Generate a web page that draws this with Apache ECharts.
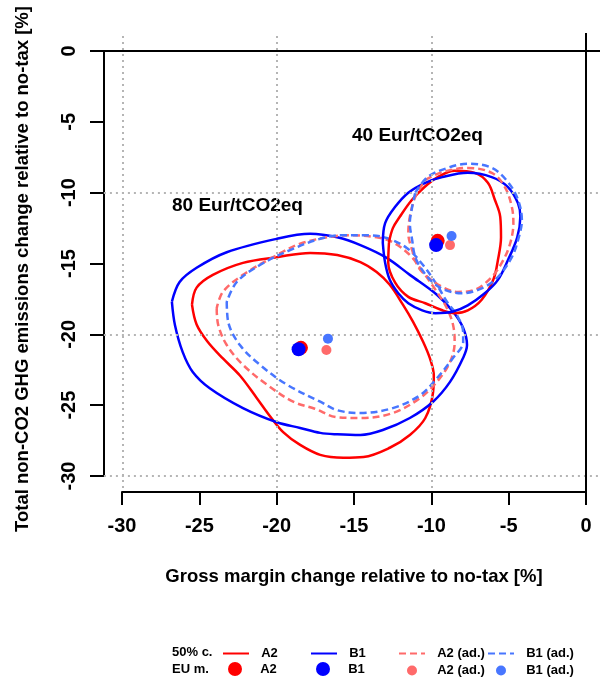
<!DOCTYPE html>
<html>
<head>
<meta charset="utf-8">
<script src="https://cdn.jsdelivr.net/npm/echarts@6/dist/echarts.min.js"></script>
<style>
  html, body { margin: 0; padding: 0; background: #fff; }
  #chart { width: 600px; height: 680px; }
</style>
</head>
<body>
<div id="chart"></div>
<script>
// tick values of both axes
var xTicks = [-30, -25, -20, -15, -10, -5, 0]
var yTicks = [-30, -25, -20, -15, -10, -5, 0]

// 50% contours, 80 Eur/tCO2eq  [gross margin %, non-CO2 GHG %]
var a2_80 = [[-25.5, -17.9], [-25.2, -19.3], [-24.5, -20.5], [-23.5, -21.7], [-22.4, -22.9], [-21.3, -24.5], [-20.5, -25.7], [-19.6, -26.9], [-18.5, -27.8], [-17.2, -28.5], [-15.7, -28.7], [-14.4, -28.65], [-12.7, -28.0], [-11.4, -27.1], [-10.4, -25.9], [-9.9, -24.1], [-9.85, -22.9], [-10.1, -21.7], [-10.55, -20.5], [-11.2, -19.1], [-11.85, -17.9], [-12.7, -16.5], [-13.55, -15.6], [-14.6, -14.9], [-16.1, -14.4], [-17.85, -14.25], [-20.0, -14.55], [-22.2, -14.95], [-24.15, -15.8], [-25.2, -16.7]]
var b1_80 = [[-26.8, -17.7], [-26.6, -19.35], [-26.1, -21.25], [-25.45, -22.65], [-24.35, -23.8], [-22.2, -25.2], [-20.0, -26.2], [-18.5, -26.6], [-17.2, -26.95], [-16.1, -27.05], [-14.6, -27.1], [-13.15, -26.75], [-11.4, -25.9], [-9.9, -24.75], [-8.8, -23.35], [-7.95, -21.65], [-7.7, -20.75], [-7.95, -19.55], [-8.6, -18.4], [-9.65, -17.2], [-11.4, -15.8], [-12.9, -14.6], [-14.6, -13.7], [-16.1, -13.15], [-17.85, -12.9], [-20.0, -13.25], [-23.25, -14.2], [-25.2, -15.3], [-26.3, -16.3]]
var a2ad_80 = [[-23.9, -18.15], [-23.8, -19.35], [-23.25, -20.75], [-22.2, -22.15], [-20.65, -23.55], [-18.95, -24.75], [-17.55, -25.25], [-16.1, -25.85], [-14.6, -25.9], [-12.5, -25.55], [-10.75, -24.5], [-9.65, -23.35], [-8.8, -21.95], [-8.5, -20.55], [-8.6, -19.35], [-9.0, -18.15], [-9.65, -17.0], [-10.55, -15.6], [-11.4, -14.4], [-12.5, -13.5], [-13.55, -13.15], [-15.3, -13.0], [-16.75, -13.15], [-18.5, -13.6], [-20.0, -14.4], [-22.2, -15.8], [-23.5, -17.0]]
var b1ad_80 = [[-23.25, -17.7], [-23.15, -19.15], [-22.4, -20.75], [-21.1, -22.15], [-19.35, -23.55], [-17.2, -24.75], [-16.1, -25.35], [-14.6, -25.55], [-12.5, -25.2], [-10.75, -24.3], [-9.65, -23.1], [-8.6, -21.65], [-7.95, -20.55], [-7.95, -19.85], [-8.35, -18.65], [-9.0, -17.7], [-9.65, -16.5], [-10.55, -15.1], [-11.6, -13.9], [-12.9, -13.2], [-14.15, -13.0], [-15.75, -13.0], [-17.2, -13.25], [-19.15, -14.05], [-21.1, -15.1], [-22.6, -16.3]]

// 50% contours, 40 Eur/tCO2eq
var a2_40 = [[-12.75, -13.5], [-12.5, -12.5], [-12.05, -11.7], [-11.3, -10.55], [-10.45, -9.6], [-9.6, -8.9], [-8.5, -8.45], [-7.2, -8.6], [-6.35, -9.3], [-5.9, -10.5], [-5.55, -11.7], [-5.5, -13.15], [-5.7, -14.75], [-6.0, -16.15], [-6.75, -17.55], [-7.65, -18.3], [-8.5, -18.5], [-9.3, -18.3], [-10.4, -17.8], [-11.5, -17.35], [-12.35, -16.35], [-12.8, -14.9]]
var b1_40 = [[-13.15, -13.55], [-13.0, -12.15], [-12.35, -11.0], [-11.5, -10.0], [-10.4, -9.3], [-9.3, -8.9], [-7.65, -8.6], [-6.1, -8.9], [-5.05, -9.6], [-4.4, -10.75], [-4.25, -11.7], [-4.45, -13.15], [-5.05, -14.75], [-5.7, -16.15], [-6.55, -17.1], [-7.65, -17.95], [-8.65, -18.4], [-9.75, -18.5], [-10.6, -18.3], [-11.5, -17.8], [-12.15, -17.1], [-12.7, -16.15], [-13.0, -14.95]]
var a2ad_40 = [[-10.4, -9.1], [-9.3, -8.55], [-7.65, -8.25], [-6.1, -8.6], [-5.25, -9.6], [-4.8, -11.0], [-4.7, -12.15], [-4.9, -13.55], [-5.35, -14.75], [-6.1, -15.95], [-7.2, -16.85], [-8.3, -17.0], [-9.3, -16.65], [-10.25, -15.95], [-10.85, -15.25], [-11.25, -14.05], [-11.5, -12.85], [-11.4, -11.7], [-11.05, -10.3]]
var b1ad_40 = [[-11.05, -10.0], [-10.25, -8.9], [-8.95, -8.25], [-7.65, -7.95], [-6.1, -8.25], [-5.05, -9.25], [-4.4, -10.5], [-4.15, -11.95], [-4.4, -13.35], [-4.8, -14.55], [-5.7, -15.95], [-6.75, -16.75], [-8.05, -17.1], [-9.15, -16.85], [-9.95, -16.3], [-10.6, -15.45], [-11.05, -14.55], [-11.25, -13.35], [-11.4, -12.15], [-11.25, -11.0]]

// EU means, [80 Eur point, 40 Eur point]
var euA2 = [[-18.45, -20.95], [-9.6, -13.4]]
var euB1 = [[-18.6, -21.05], [-9.7, -13.7]]
var euA2ad = [[-16.8, -21.1], [-8.8, -13.7]]
var euB1ad = [[-16.7, -20.3], [-8.7, -13.05]]

var FONT = '"Liberation Sans", Arial, sans-serif'
var RED = '#ff0000'
var BLUE = '#0000ff'
var PINK = '#ff6a6a'
var LBLUE = '#4876ff'
var GRIDC = '#b5b5b5'

var chart = echarts.init(document.getElementById('chart'))

function contour(name, data, color, dashed) {
  return {
    name: name,
    type: 'line',
    data: data.concat([data[0]]),
    smooth: 0.35,
    symbol: 'none',
    silent: true,
    z: 3,
    lineStyle: { color: color, width: 2.5, type: dashed ? [7, 4] : 'solid' },
    itemStyle: { color: color }
  }
}

function dots(name, data, color, size) {
  return {
    name: name,
    type: 'scatter',
    data: data,
    symbolSize: size,
    silent: true,
    z: 5,
    itemStyle: { color: color, opacity: 1 }
  }
}

var dotted = { color: GRIDC, width: 2, type: [2, 4] }
var guides = {
  type: 'line',
  data: [],
  silent: true,
  z: 1,
  markLine: {
    silent: true,
    symbol: 'none',
    label: { show: false },
    data: [
      [{ coord: [-30, 1.06], lineStyle: dotted }, { coord: [-30, -30.84] }],
      [{ coord: [-20, 1.06], lineStyle: dotted }, { coord: [-20, -30.84] }],
      [{ coord: [-10, 1.06], lineStyle: dotted }, { coord: [-10, -30.84] }],
      [{ coord: [-31.2, -10], lineStyle: dotted }, { coord: [0.9, -10] }],
      [{ coord: [-31.2, -20], lineStyle: dotted }, { coord: [0.9, -20] }],
      [{ coord: [-31.2, -30], lineStyle: dotted }, { coord: [0.9, -30] }],
      { xAxis: 0, lineStyle: { color: '#000', width: 2, type: 'solid' } },
      { yAxis: 0, lineStyle: { color: '#000', width: 2, type: 'solid' } }
    ]
  }
}

var legendText = { fontSize: 13, fontWeight: 'bold', color: '#000', fontFamily: FONT }
function legendItem(name, left, top, h, isLine) {
  var lg = {
    show: true,
    left: left,
    top: top,
    padding: 0,
    itemWidth: 26,
    itemHeight: h,
    itemGap: 0,
    selectedMode: false,
    data: [name],
    textStyle: legendText,
    formatter: function(n) {
      return '  ' + n.replace(' dot', '')
    }
  }
  if (isLine) lg.itemStyle = { opacity: 0 }
  return lg
}

var axisBlack = { show: true, onZero: false, lineStyle: { color: '#000', width: 2 } }
var tickLabel = { fontSize: 20, fontWeight: 'bold', color: '#000', fontFamily: FONT }
var titleStyle = { fontSize: 18.5, fontWeight: 'bold', color: '#000', fontFamily: FONT }

chart.setOption({
  animation: false,
  backgroundColor: '#fff',
  grid: [
    { left: 90, top: 33, width: 510, height: 472, outerBoundsMode: 'none' },
    { left: 104, top: 51, width: 50, height: 425, outerBoundsMode: 'none' },
    { left: 122, top: 300, width: 464, height: 192, outerBoundsMode: 'none' }
  ],
  xAxis: [
    { gridIndex: 0, type: 'value', min: -32.1, max: 0.906, show: false },
    { gridIndex: 1, type: 'value', min: 0, max: 1, show: false },
    {
      gridIndex: 2,
      type: 'value',
      min: xTicks[0],
      max: xTicks[xTicks.length - 1],
      interval: xTicks[1] - xTicks[0],
      position: 'bottom',
      axisLine: axisBlack,
      axisTick: { show: true, length: 13, lineStyle: { color: '#000', width: 2 } },
      axisLabel: Object.assign({ margin: 24 }, tickLabel),
      splitLine: { show: false },
      name: 'Gross margin change relative to no-tax [%]',
      nameLocation: 'middle',
      nameGap: 75,
      nameTextStyle: titleStyle
    }
  ],
  yAxis: [
    {
      gridIndex: 0,
      type: 'value',
      min: -32.04,
      max: 1.27,
      axisLine: { show: false },
      axisTick: { show: false },
      axisLabel: { show: false },
      splitLine: { show: false },
      name: 'Total non-CO2 GHG emissions change relative to no-tax [%]',
      nameLocation: 'middle',
      nameGap: 58,
      nameTextStyle: titleStyle
    },
    {
      gridIndex: 1,
      type: 'value',
      min: yTicks[0],
      max: yTicks[yTicks.length - 1],
      interval: yTicks[1] - yTicks[0],
      axisLine: axisBlack,
      axisTick: { show: true, length: 14, lineStyle: { color: '#000', width: 2 } },
      axisLabel: Object.assign({ margin: 25, rotate: 90 }, tickLabel),
      splitLine: { show: false }
    },
    { gridIndex: 2, type: 'value', min: 0, max: 1, show: false }
  ],
  legend: [
    legendItem('A2', 222, 647, 14, true),
    legendItem('B1', 310, 647, 14, true),
    legendItem('A2 (ad.)', 398, 647, 14, true),
    legendItem('B1 (ad.)', 487, 647, 14, true),
    legendItem('A2 dot', 228, 662, 14, false),
    legendItem('B1 dot', 316, 662, 14, false),
    legendItem('A2 (ad.) dot', 407, 664, 10, false),
    legendItem('B1 (ad.) dot', 496, 664, 10, false)
  ],
  graphic: [
    { type: 'text', x: 172, y: 652, style: { text: '50% c.', font: 'bold 13px ' + FONT, fill: '#000', verticalAlign: 'middle' } },
    { type: 'text', x: 172, y: 669, style: { text: 'EU m.', font: 'bold 13px ' + FONT, fill: '#000', verticalAlign: 'middle' } },
    { type: 'text', x: 352, y: 135.5, style: { text: '40 Eur/tCO2eq', font: 'bold 19px ' + FONT, fill: '#000', verticalAlign: 'middle' } },
    { type: 'text', x: 172, y: 205.5, style: { text: '80 Eur/tCO2eq', font: 'bold 19px ' + FONT, fill: '#000', verticalAlign: 'middle' } }
  ],
  series: [
    guides,
    contour('A2', a2_80, RED, false),
    contour('B1', b1_80, BLUE, false),
    contour('A2 (ad.)', a2ad_80, PINK, true),
    contour('B1 (ad.)', b1ad_80, LBLUE, true),
    contour('A2', a2_40, RED, false),
    contour('B1', b1_40, BLUE, false),
    contour('A2 (ad.)', a2ad_40, PINK, true),
    contour('B1 (ad.)', b1ad_40, LBLUE, true),
    dots('A2 dot', euA2, RED, 14),
    dots('B1 dot', euB1, BLUE, 14),
    dots('A2 (ad.) dot', euA2ad, PINK, 10),
    dots('B1 (ad.) dot', euB1ad, LBLUE, 10)
  ]
})
</script>
</body>
</html>
